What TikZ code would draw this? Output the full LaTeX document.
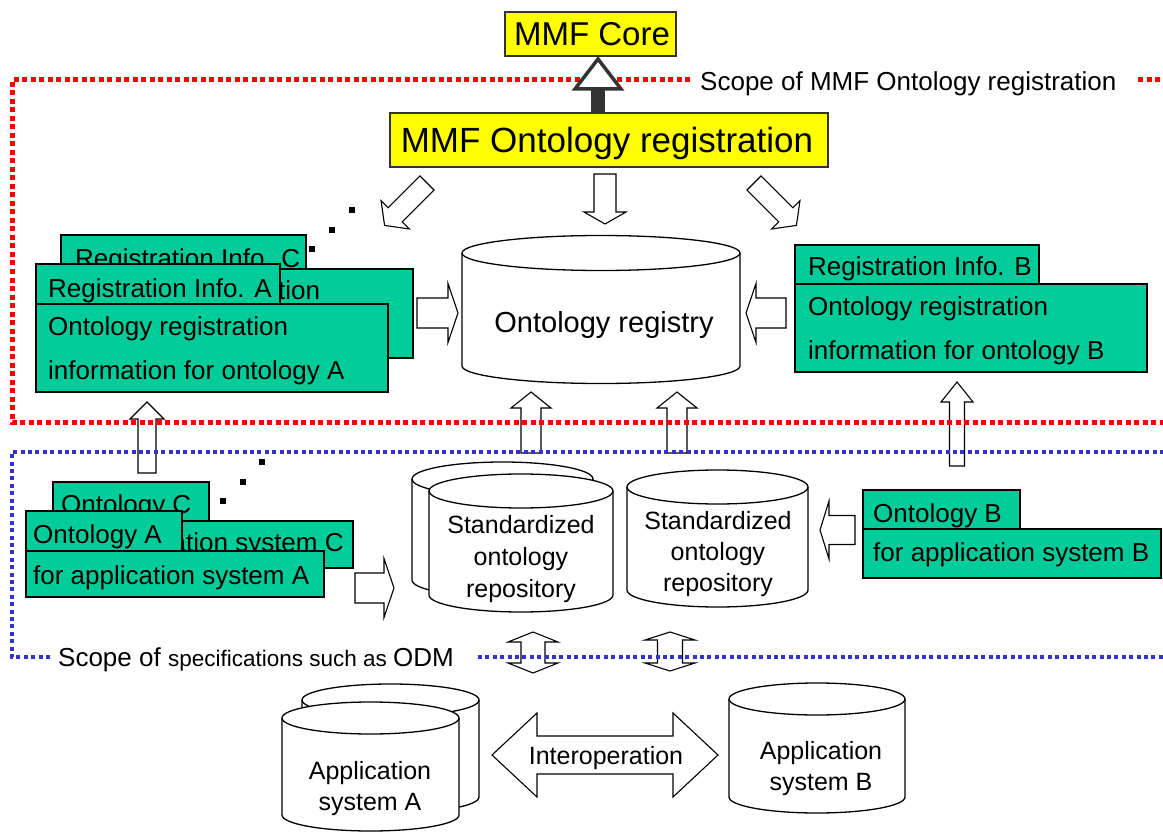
\documentclass[tikz,border=0pt]{standalone}
\usepackage{fontspec}
\setmainfont{Liberation Sans}
\newcommand\fsz[1]{\fontsize{#1}{#1}\selectfont}
\definecolor{grn}{HTML}{00CC99}
\definecolor{ylw}{HTML}{FFFF00}
\definecolor{dotred}{HTML}{FF0000}
\definecolor{dotblue}{HTML}{3333CC}
\definecolor{dkgray}{HTML}{333333}
% block arrow: x y angle length shafthalf headhalf headlen
\newcommand\blockarrow[7]{%
  \begin{scope}[shift={(#1,#2)}, rotate=#3]
    \draw[barrowstyle] (0,-#5) -- ({#4-#7},-#5) -- ({#4-#7},-#6) -- (#4,0) -- ({#4-#7},#6) -- ({#4-#7},#5) -- (0,#5) -- cycle;
  \end{scope}}
% double block arrow: x y angle length shafthalf headhalf headlen
\newcommand\dblarrow[7]{%
  \begin{scope}[shift={(#1,#2)}, rotate=#3]
    \draw[barrowstyle] (0,0) -- (#7,-#6) -- (#7,-#5) -- ({#4-#7},-#5) -- ({#4-#7},-#6) -- (#4,0) -- ({#4-#7},#6) -- ({#4-#7},#5) -- (#7,#5) -- (#7,#6) -- cycle;
  \end{scope}}
% cylinder: left right topcentre bottomcentre ry
\newcommand\cylinderdraw[5]{%
  \pgfmathsetmacro\cylrx{(#2-#1)/2}
  \filldraw[cylstyle] (#1,#3) -- (#1,#4) arc[start angle=180, end angle=360, x radius=\cylrx pt, y radius=#5 pt] -- (#2,#3) arc[start angle=0, end angle=180, x radius=\cylrx pt, y radius=#5 pt] -- cycle;
  \draw[cylstyle, fill=none] (#1,#3) arc[start angle=180, end angle=360, x radius=\cylrx pt, y radius=#5 pt];}
\begin{document}
\begin{tikzpicture}[x=1pt, y=-1pt,
  gbox/.style={draw=black, fill=grn, line width=1.3pt},
  ybox/.style={draw=dkgray, fill=ylw, line width=1.4pt},
  barrowstyle/.style={draw=black, fill=white, line width=1.1pt, line join=miter},
  cylstyle/.style={draw=black, fill=white, line width=1.3pt},
  reddots/.style={draw=dotred, line width=5pt, dash pattern=on 5pt off 3.5pt},
  bluedots/.style={draw=dotblue, line width=4pt, dash pattern=on 4pt off 3.4pt},
  lbl/.style={inner sep=0pt, anchor=base west, font=\fsz{26}},
  ctxt/.style={inner sep=0pt, anchor=base, font=\fsz{25}},
  dotsq/.style={fill=black}]
\useasboundingbox (0,0) rectangle (1163,832);
\clip (0,0) rectangle (1163,832);

% ---- registration info C (behind) ----
\path[gbox] (61,235) rectangle (306,269);
\node[lbl] (regCt) at (75,267) {Registration Info. C};
\path[gbox] (61,269) rectangle (413,358);
\node[lbl] (regCb) at (80,299) {Ontology registration};
% ---- registration info A ----
\path[gbox] (36,264) rectangle (280,304);
\node[lbl] (regAt) at (48,297) {Registration Info. A};
\path[gbox] (36,304) rectangle (388,392);
\node[lbl] (regAb1) at (48,335) {Ontology registration};
\node[lbl] (regAb2) at (48,379) {information for ontology A};
% ---- registration info B ----
\path[gbox] (795,245) rectangle (1039,284);
\node[lbl] (regBt) at (808,276) {Registration Info. B};
\path[gbox] (795,284) rectangle (1147,372);
\node[lbl] (regBb1) at (808,315) {Ontology registration};
\node[lbl] (regBb2) at (808,359) {information for ontology B};

% ---- ontology registry ----
\cylinderdraw{462}{740}{253}{366}{17.5}
\node[ctxt, font=\fsz{29}] (registry) at (604,332) {Ontology registry};

% ---- standardized repositories ----
\cylinderdraw{412}{593}{479}{580}{17}
\cylinderdraw{429}{613}{491}{595}{17}
\node[ctxt] (sr1a) at (521,533) {Standardized};
\node[ctxt] (sr1b) at (521,565) {ontology};
\node[ctxt] (sr1c) at (521,597) {repository};
\cylinderdraw{627}{808}{487}{590}{17}
\node[ctxt] (sr2a) at (718,529) {Standardized};
\node[ctxt] (sr2b) at (718,560) {ontology};
\node[ctxt] (sr2c) at (718,591) {repository};

% ---- ontology C / A (bottom left) ----
\path[gbox] (53,482) rectangle (209,521);
\node[lbl] (ontCt) at (61,513) {Ontology C};
\path[gbox] (53,521) rectangle (353,568);
\node[lbl] (ontCb) at (66,551) {for application system C};
\path[gbox] (26,511) rectangle (182,551);
\node[lbl] (ontAt) at (33,543) {Ontology A};
\path[gbox] (26,551) rectangle (324,597);
\node[lbl] (ontAb) at (33,584) {for application system A};
% ---- ontology B ----
\path[gbox] (863,490) rectangle (1020,529);
\node[lbl] (ontBt) at (873,522) {Ontology B};
\path[gbox] (863,529) rectangle (1161,578);
\node[lbl] (ontBb) at (873,561) {for application system B};

% ---- application systems ----
\cylinderdraw{302}{479}{700}{797}{16}
\cylinderdraw{282}{459}{718}{815}{16}
\node[ctxt] (appA1) at (370,779) {Application};
\node[ctxt] (appA2) at (370,810) {system A};
\cylinderdraw{729}{905}{699}{797}{16}
\node[ctxt] (appB1) at (821,759) {Application};
\node[ctxt] (appB2) at (821,790) {system B};

% ---- block arrows ----
\blockarrow{427}{183}{225}{60}{10}{20}{15}
\blockarrow{605}{174}{-90}{50}{11}{21}{12}
\blockarrow{754}{183}{-45}{60}{10}{20}{15}
\blockarrow{417}{313}{0}{41}{15}{29.5}{10}
\blockarrow{786}{313}{180}{40}{15}{29.5}{10}
\blockarrow{355}{588}{0}{39}{15}{29.5}{10}
\blockarrow{855}{530}{180}{35}{14.5}{29}{9}
\blockarrow{531}{453}{90}{61}{10}{20}{16}
\blockarrow{677}{453}{90}{61}{10}{20}{16}
\blockarrow{147}{473}{90}{71}{9}{17}{17}
\blockarrow{957}{466}{90}{84}{7.5}{16}{20}
\dblarrow{492}{755}{0}{226}{19}{42}{45}
\dblarrow{533}{632}{-90}{41}{12}{25}{10}
\dblarrow{670}{632}{-90}{39}{12.5}{25}{8}
\node[ctxt] (interop) at (606,764) {Interoperation};

% ---- ellipsis dots ----
\path[dotsq] (349,207) rectangle +(6,6);
\path[dotsq] (329,227) rectangle +(6,6);
\path[dotsq] (309,246) rectangle +(6,6);
\path[dotsq] (259,459) rectangle +(6,6);
\path[dotsq] (240,479) rectangle +(6,6);
\path[dotsq] (220,498) rectangle +(6,6);

% ---- scope borders ----
\draw[reddots] (690,80) -- (12,80) -- (12,422) -- (1163,422);
\draw[reddots] (1138,80) -- (1163,80);
\draw[bluedots] (50,657) -- (12,657) -- (12,452) -- (1163,452);
\draw[bluedots] (478,657) -- (1163,657);
\node[inner sep=0pt, anchor=base west, font=\fsz{26}] (scopeMMF) at (700,91) {Scope of MMF Ontology registration};
\node[inner sep=0pt, anchor=base west] (scopeODM) at (58,666) {{\fsz{26}Scope of }{\fsz{22.5}specifications such as }{\fsz{26}ODM}};

% ---- MMF boxes ----
\path[ybox] (505,12) rectangle (676,56);
\node[inner sep=0pt, anchor=base, font=\fsz{33}] (core) at (592,46) {MMF Core};
\path[ybox] (390,113) rectangle (828,167);
\node[inner sep=0pt, anchor=base, font=\fsz{35}] (ontreg) at (607,152.5) {MMF Ontology registration};
\fill[dkgray] (591,88) rectangle (605,113);
\draw[dkgray, fill=white, line width=3.5pt, line join=miter] (598,59) -- (621,89) -- (575,89) -- cycle;
\end{tikzpicture}
\end{document}
